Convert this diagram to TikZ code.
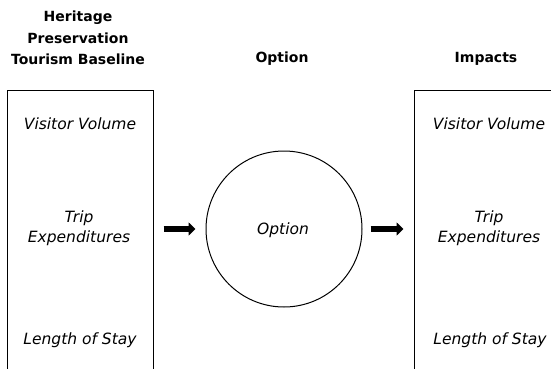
\documentclass[tikz,border=0pt]{standalone}
\usepackage{fontspec}
\setmainfont{DejaVu Sans}
\usetikzlibrary{arrows.meta, positioning}

\tikzset{
  head/.style={font=\bfseries\fontsize{14}{21.5}\selectfont, align=center, inner sep=0pt},
  item/.style={font=\itshape\fontsize{15.5}{20}\selectfont, align=center, inner sep=0pt},
  column/.style={minimum width=145pt, minimum height=280pt, inner sep=0pt},
  bigarrow/.style={line width=6pt, -{Triangle[length=7pt,width=13pt]}},
}

\begin{document}
\begin{tikzpicture}[x=1pt,y=-1pt,line width=1pt]
\useasboundingbox (0,0) rectangle (551,369);
% Column headings
\node[head] (hbase) at (78,38) {Heritage\\Preservation\\Tourism Baseline};
\node[head] (hopt) at (282,59) {Option};
\node[head] (himp) at (486,59) {Impacts};
% Baseline column, open at the bottom
\node[column] (base) at (80.5,231) {};
\draw (base.south west) -- (base.north west) -- (base.north east) -- (base.south east);
\node[item] (bvol) at (80,124) {Visitor Volume};
\node[item] (bexp) at (79,228) {Trip\\Expenditures};
\node[item] (bstay) at (80,340) {Length of Stay};
% The option itself
\node[circle, draw, minimum size=156pt, inner sep=0pt] (opt) at (284,229) {};
\node[item] (otext) at (283,230) {Option};
% Impacts column, cut by the right edge
\node[column, minimum width=150pt] (imp) at (490,231) {};
\draw (imp.south west) -- (imp.north west) -- (imp.north east);
\node[item] (ivol) at (489,124) {Visitor Volume};
\node[item] (iexp) at (489,228) {Trip\\Expenditures};
\node[item] (istay) at (490,340) {Length of Stay};
% Arrows between the parts
\draw[bigarrow, shorten <=10pt, shorten >=10pt] (base.east |- opt.west) -- (opt.west);
\draw[bigarrow, shorten <=8pt, shorten >=11pt] (opt.east) -- (imp.west |- opt.east);
\end{tikzpicture}
\end{document}
